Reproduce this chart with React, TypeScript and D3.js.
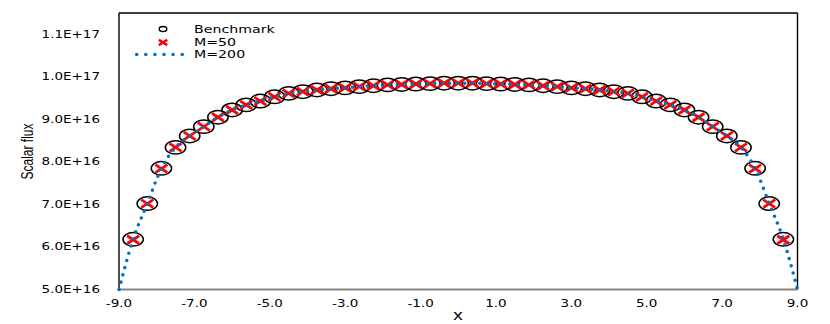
import React from 'react';
import * as d3 from 'd3';

const X_POS = [-8.625, -8.25, -7.875, -7.5, -7.125, -6.75, -6.375, -6, -5.625, -5.25, -4.875, -4.5, -4.125, -3.75, -3.375, -3, -2.625, -2.25, -1.875, -1.5, -1.125, -0.75, -0.375, 0, 0.375, 0.75, 1.125, 1.5, 1.875, 2.25, 2.625, 3, 3.375, 3.75, 4.125, 4.5, 4.875, 5.25, 5.625, 6, 6.375, 6.75, 7.125, 7.5, 7.875, 8.25, 8.625];

const BENCHMARK = [6.18e16, 7.02e16, 7.85e16, 8.34e16, 8.61e16, 8.83e16, 9.05e16, 9.22e16, 9.34e16, 9.43e16, 9.53e16, 9.61e16, 9.65e16, 9.69e16, 9.72e16, 9.74e16, 9.77e16, 9.79e16, 9.81e16, 9.82e16, 9.83e16, 9.84e16, 9.85e16, 9.85e16, 9.85e16, 9.84e16, 9.83e16, 9.82e16, 9.81e16, 9.79e16, 9.77e16, 9.74e16, 9.72e16, 9.69e16, 9.65e16, 9.61e16, 9.53e16, 9.43e16, 9.34e16, 9.22e16, 9.05e16, 8.83e16, 8.61e16, 8.34e16, 7.85e16, 7.02e16, 6.18e16];

const M50 = [6.17e16, 7.02e16, 7.84e16, 8.34e16, 8.61e16, 8.83e16, 9.05e16, 9.22e16, 9.34e16, 9.43e16, 9.53e16, 9.61e16, 9.65e16, 9.69e16, 9.72e16, 9.74e16, 9.77e16, 9.79e16, 9.81e16, 9.82e16, 9.83e16, 9.84e16, 9.85e16, 9.85e16, 9.85e16, 9.84e16, 9.83e16, 9.82e16, 9.81e16, 9.79e16, 9.77e16, 9.74e16, 9.72e16, 9.69e16, 9.65e16, 9.61e16, 9.53e16, 9.43e16, 9.34e16, 9.22e16, 9.05e16, 8.83e16, 8.61e16, 8.34e16, 7.84e16, 7.02e16, 6.17e16];

const M200_X = [-9, -8.625, -8.25, -7.875, -7.5, -7.125, -6.75, -6.375, -6, -5.625, -5.25, -4.875, -4.5, -4.125, -3.75, -3.375, -3, -2.625, -2.25, -1.875, -1.5, -1.125, -0.75, -0.375, 0, 0.375, 0.75, 1.125, 1.5, 1.875, 2.25, 2.625, 3, 3.375, 3.75, 4.125, 4.5, 4.875, 5.25, 5.625, 6, 6.375, 6.75, 7.125, 7.5, 7.875, 8.25, 8.625, 9];
const M200 = [5.0e16, 6.18e16, 7.02e16, 7.85e16, 8.34e16, 8.61e16, 8.83e16, 9.05e16, 9.22e16, 9.34e16, 9.43e16, 9.53e16, 9.61e16, 9.65e16, 9.69e16, 9.72e16, 9.74e16, 9.77e16, 9.79e16, 9.81e16, 9.82e16, 9.83e16, 9.84e16, 9.85e16, 9.85e16, 9.85e16, 9.84e16, 9.83e16, 9.82e16, 9.81e16, 9.79e16, 9.77e16, 9.74e16, 9.72e16, 9.69e16, 9.65e16, 9.61e16, 9.53e16, 9.43e16, 9.34e16, 9.22e16, 9.05e16, 8.83e16, 8.61e16, 8.34e16, 7.85e16, 7.02e16, 6.18e16, 5.0e16];

const Y_TICKS = [5e16, 6e16, 7e16, 8e16, 9e16, 1e17, 1.1e17];
const Y_TICK_LABELS = ['5.0E+16', '6.0E+16', '7.0E+16', '8.0E+16', '9.0E+16', '1.0E+17', '1.1E+17'];
const X_TICKS = [-9, -7, -5, -3, -1, 1, 3, 5, 7, 9];
const X_TICK_LABELS = ['-9.0', '-7.0', '-5.0', '-3.0', '-1.0', '1.0', '3.0', '5.0', '7.0', '9.0'];
const SERIES_NAMES = ['Benchmark', 'M=50', 'M=200'];

const W = 830, H = 324;
const L = 119, R = 797.5, T = 13, B = 289.5;
const SX = 1.35;
const TICK_FONT = 'DejaVu Sans, Verdana, sans-serif';

const xScale = d3.scaleLinear().domain([-9, 9]).range([L, R]);
const yScale = d3.scaleLinear().domain([5e16, 1.15e17]).range([B, T]);

function SText(props: { x: number; y: number; text: string; anchor?: string; size: number; family: string; rotate?: boolean }) {
  const { x, y, text, anchor = 'start', size, family, rotate } = props;
  return (
    <text
      transform={`translate(${x},${y}) scale(${SX},1)${rotate ? ' rotate(-90)' : ''}`}
      textAnchor={anchor}
      fontSize={size}
      fontFamily={family}
      dy="0.35em"
      fill="#000"
    >
      {text}
    </text>
  );
}

function XMark({ cx, cy, hw, hh, sw }: { cx: number; cy: number; hw: number; hh: number; sw: number }) {
  return (
    <g stroke="#FF0000" strokeWidth={sw} strokeLinecap="butt">
      <line x1={cx - hw} y1={cy - hh} x2={cx + hw} y2={cy + hh} />
      <line x1={cx - hw} y1={cy + hh} x2={cx + hw} y2={cy - hh} />
    </g>
  );
}

export default function App() {
  const line = d3
    .line<number>()
    .x((_, i) => xScale(M200_X[i]))
    .y((d) => yScale(d))
    .curve(d3.curveMonotoneX);

  return (
    <svg width={W} height={H} style={{ position: 'absolute', left: 0, top: 0, background: '#fff' }}>
      {/* plot frame */}
      <line x1={L} y1={T} x2={R} y2={T} stroke="#000" strokeWidth={1.4} />
      <line x1={L} y1={T} x2={L} y2={B} stroke="#000" strokeWidth={1.4} />
      <line x1={R} y1={T} x2={R} y2={B} stroke="#000" strokeWidth={1.4} />
      <line x1={L} y1={B} x2={R} y2={B} stroke="#868686" strokeWidth={2} />

      {/* y ticks */}
      {Y_TICKS.map((v, i) => (
        <SText key={'y' + i} x={100} y={yScale(v)} text={Y_TICK_LABELS[i]} anchor="end" size={10} family={TICK_FONT} />
      ))}
      {/* x ticks */}
      {X_TICKS.map((v, i) => (
        <SText key={'x' + i} x={xScale(v)} y={303} text={X_TICK_LABELS[i]} anchor="middle" size={10} family={TICK_FONT} />
      ))}

      {/* axis titles */}
      <SText x={27} y={151.5} text="Scalar flux" anchor="middle" size={12} family="Liberation Sans, Arial, sans-serif" rotate />
      <SText x={458} y={315} text="x" anchor="middle" size={14} family="Liberation Sans, Arial, sans-serif" />

      {/* benchmark circles */}
      {BENCHMARK.map((v, i) => (
        <ellipse key={'b' + i} cx={xScale(X_POS[i])} cy={yScale(v)} rx={10.2} ry={6.7} fill="none" stroke="#000" strokeWidth={1.5} />
      ))}
      {/* M=50 crosses */}
      {M50.map((v, i) => (
        <XMark key={'m' + i} cx={xScale(X_POS[i])} cy={yScale(v)} hw={6} hh={4} sw={2.8} />
      ))}
      {/* M=200 dotted line */}
      <path d={line(M200) || ''} fill="none" stroke="#0070C0" strokeWidth={3.6} strokeDasharray="0 7.5" strokeLinecap="round" />

      {/* legend */}
      <ellipse cx={163} cy={29} rx={3.8} ry={2.5} fill="none" stroke="#000" strokeWidth={1.4} />
      <SText x={194} y={29.5} text={SERIES_NAMES[0]} size={10.5} family={TICK_FONT} />
      <XMark cx={163} cy={42.5} hw={4.2} hh={2.6} sw={2.5} />
      <SText x={194} y={42.5} text={SERIES_NAMES[1]} size={10.5} family={TICK_FONT} />
      <line x1={136.7} y1={54.5} x2={188} y2={54.5} stroke="#0070C0" strokeWidth={3.6} strokeDasharray="0 9.1" strokeLinecap="round" />
      <SText x={194} y={54.5} text={SERIES_NAMES[2]} size={10.5} family={TICK_FONT} />
    </svg>
  );
}
